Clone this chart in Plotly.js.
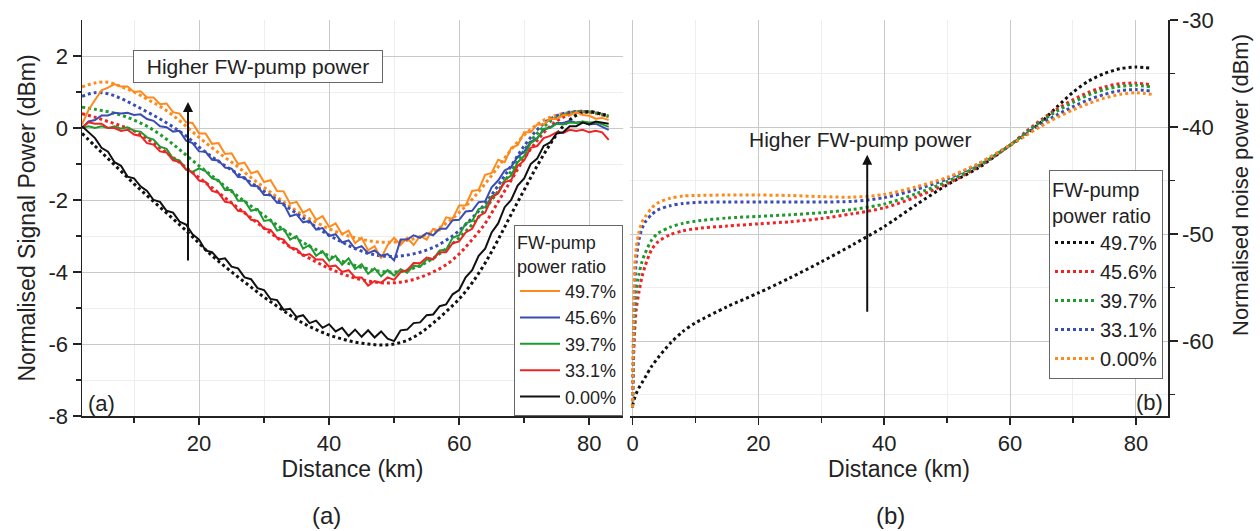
<!DOCTYPE html>
<html><head><meta charset="utf-8">
<script src="https://cdn.plot.ly/plotly-3.0.1.min.js"></script>
<style>html,body{margin:0;padding:0;background:#fff}#chart{width:1260px;height:531px}</style>
</head><body><div id="chart"></div>
<script>
// ---------- Panel (a): normalised signal power ----------
const distMeas = [2,3,4,5,6,7,8,9,10,11,12,13,14,15,16,17,18,19,20,21,22,23,24,25,26,27,28,29,30,31,32,33,34,35,36,37,38,39,40,41,42,43,44,45,46,47,48,49,50,51,52,53,54,55,56,57,58,59,60,61,62,63,64,65,66,67,68,69,70,71,72,73,74,75,76,77,78,79,80,81,82,83];
const orangeMeas = [0.1,0.5,0.78,1.05,1.12,1.22,1.15,1.15,1.0,1.02, 0.85,0.85,0.66,0.68,0.44,0.4,0.16,0.14,-0.15,-0.15, -0.44,-0.42,-0.72,-0.7,-1.0,-0.96,-1.26,-1.2,-1.5,-1.45, -1.75,-1.76,-2.1,-2.05,-2.35,-2.25,-2.55,-2.45,-2.75,-2.65, -2.95,-2.85,-3.2,-3.05,-3.4,-3.28,-3.62,-3.25,-3.05,-3.25, -3.05,-3.25,-3.0,-3.1,-2.8,-2.85,-2.48,-2.52,-2.15,-2.15, -1.75,-1.72,-1.3,-1.25,-0.88,-0.95,-0.55,-0.48,-0.12,-0.12, 0.1,0.1,0.26,0.25,0.36,0.35,0.44,0.36,0.34,0.26, 0.28,0.22];
const blueMeas = [0.0,0.18,0.22,0.35,0.35,0.42,0.4,0.42,0.36,0.38, 0.25,0.2,0.05,0.02,-0.1,-0.08,-0.35,-0.42,-0.65,-0.66, -0.88,-0.9,-1.1,-1.13,-1.36,-1.37,-1.6,-1.62,-1.86,-1.86, -2.08,-2.1,-2.45,-2.4,-2.62,-2.58,-2.82,-2.78,-3.0,-2.95, -3.18,-3.12,-3.35,-3.28,-3.48,-3.4,-3.55,-3.5,-3.68,-3.1, -3.1,-2.98,-3.05,-2.92,-2.98,-2.8,-2.8,-2.56,-2.55,-2.32, -2.3,-2.06,-2.04,-1.65,-1.46,-1.18,-1.08,-0.8,-0.66,-0.38, -0.28,-0.05,0.02,0.14,0.14,0.2,0.15,0.17,0.1,0.12, 0.03,-0.05];
const greenMeas = [0.0,0.05,0.0,0.05,0.0,0.05,-0.02,0.02,-0.08,-0.1, -0.26,-0.32,-0.52,-0.58,-0.85,-0.9,-1.15,-1.22,-1.12,-1.2, -1.4,-1.45,-1.72,-1.72,-2.02,-2.02,-2.3,-2.25,-2.58,-2.55, -2.85,-2.8,-3.1,-3.0,-3.35,-3.25,-3.55,-3.42,-3.68,-3.55, -3.8,-3.62,-3.92,-3.78,-4.05,-3.9,-4.12,-3.95,-4.1,-3.92, -4.02,-3.82,-3.86,-3.65,-3.65,-3.4,-3.38,-3.05,-2.98,-2.65, -2.58,-2.25,-2.2,-1.9,-1.82,-1.45,-1.32,-0.95,-0.78,-0.42, -0.3,-0.02,0.0,0.12,0.1,0.15,0.14,0.18,0.15,0.16, 0.1,0.03];
const redMeas = [0.0,0.16,0.12,0.12,0.0,0.0,-0.08,-0.05,-0.18,-0.22, -0.42,-0.46,-0.65,-0.68,-0.9,-0.94,-1.16,-1.24,-1.46,-1.5, -1.75,-1.8,-2.05,-2.08,-2.3,-2.33,-2.55,-2.58,-2.8,-2.83, -3.05,-3.1,-3.32,-3.36,-3.55,-3.5,-3.65,-3.65,-3.85,-3.82, -4.0,-3.95,-4.15,-4.15,-4.38,-4.25,-4.3,-4.15,-4.22,-4.0, -3.95,-3.75,-3.76,-3.6,-3.64,-3.45,-3.45,-3.2,-3.15,-2.9, -2.8,-2.45,-2.35,-1.95,-1.8,-1.5,-1.45,-1.05,-0.9,-0.55, -0.5,-0.28,-0.22,-0.12,-0.14,-0.05,-0.08,-0.05,-0.12,-0.08, -0.12,-0.33];
const blackMeas = [0.05,-0.12,-0.28,-0.55,-0.66,-0.95,-1.05,-1.35,-1.4,-1.62, -1.75,-2.0,-2.05,-2.3,-2.35,-2.6,-2.68,-2.95,-3.1,-3.4, -3.45,-3.65,-3.62,-3.85,-3.9,-4.15,-4.2,-4.45,-4.5,-4.75, -4.78,-5.05,-5.02,-5.25,-5.2,-5.42,-5.35,-5.55,-5.45,-5.65, -5.55,-5.78,-5.6,-5.8,-5.62,-5.82,-5.65,-5.85,-5.92,-5.62, -5.6,-5.42,-5.4,-5.2,-5.18,-4.95,-4.9,-4.62,-4.5,-4.15, -3.95,-3.55,-3.35,-2.9,-2.65,-2.2,-2.0,-1.6,-1.4,-1.0, -0.85,-0.5,-0.4,-0.15,-0.12,0.05,0.05,0.15,0.1,0.18, 0.15,0.12];

const distSim = [2,4,6,8,10,12,14,16,18,20,22,24,26,28,30,32,34,36,38,40,42,44,46,48,50,52,54,56,58,60,62,64,66,68,70,72,74,76,78,80,82,83];
const orangeSim = [1.14,1.25,1.27,1.15,1.0,0.8,0.6,0.35,0.05,-0.26,-0.55,-0.82,-1.08,-1.38,-1.65,-1.92,-2.18,-2.42,-2.62,-2.8,-2.94,-3.05,-3.13,-3.17,-3.17,-3.12,-3.02,-2.88,-2.65,-2.35,-1.98,-1.55,-1.08,-0.6,-0.2,0.1,0.3,0.4,0.45,0.43,0.36,0.3];
const blueSim = [0.88,0.98,0.95,0.82,0.64,0.45,0.25,0.03,-0.22,-0.53,-0.8,-1.05,-1.28,-1.52,-1.76,-2.0,-2.25,-2.5,-2.75,-2.98,-3.17,-3.35,-3.48,-3.55,-3.57,-3.53,-3.45,-3.32,-3.12,-2.85,-2.5,-2.1,-1.6,-1.05,-0.5,-0.05,0.25,0.4,0.46,0.45,0.38,0.32];
const greenSim = [0.58,0.52,0.45,0.36,0.22,0.05,-0.18,-0.45,-0.75,-1.05,-1.33,-1.62,-1.9,-2.17,-2.43,-2.7,-2.95,-3.18,-3.38,-3.55,-3.7,-3.82,-3.92,-3.98,-4.0,-3.95,-3.82,-3.62,-3.35,-3.05,-2.68,-2.25,-1.75,-1.2,-0.62,-0.15,0.18,0.36,0.45,0.45,0.38,0.33];
const redSim = [0.4,0.3,0.18,0.06,-0.08,-0.3,-0.55,-0.82,-1.1,-1.38,-1.66,-1.94,-2.22,-2.5,-2.78,-3.05,-3.3,-3.52,-3.72,-3.9,-4.05,-4.17,-4.25,-4.3,-4.3,-4.25,-4.15,-4.0,-3.8,-3.5,-3.1,-2.65,-2.05,-1.45,-0.85,-0.35,0.05,0.3,0.42,0.45,0.38,0.33];
const blackSim = [-0.15,-0.5,-0.85,-1.2,-1.55,-1.88,-2.2,-2.52,-2.85,-3.2,-3.55,-3.85,-4.14,-4.42,-4.7,-4.95,-5.2,-5.42,-5.6,-5.75,-5.86,-5.95,-6.0,-6.03,-6.0,-5.9,-5.7,-5.42,-5.1,-4.75,-4.3,-3.75,-3.1,-2.4,-1.72,-1.05,-0.45,0.05,0.35,0.45,0.38,0.33];

const labelsA = ['49.7%','45.6%','39.7%','33.1%','0.00%'];

// ---------- Panel (b): normalised noise power ----------
const distNoise = [0,0.1,0.2,0.35,0.6,1,1.5,2,3,4,6,8,10,15,20,25,30,35,40,45,50,55,60,62.5,65,67.5,70,72.5,75,77.5,80,82.5];
const noiseBlack = [-66.0,-65.8,-65.6,-65.3,-64.9,-64.4,-63.9,-63.4,-62.4,-61.6,-60.2,-59.1,-58.3,-56.8,-55.5,-54.1,-52.6,-51.0,-49.3,-47.3,-45.4,-43.8,-41.7,-40.7,-39.5,-38.1,-36.75,-35.7,-35.0,-34.55,-34.4,-34.5];
const noiseRed = [-66.2,-63.5,-61.0,-59.0,-57.0,-55.5,-54.0,-53.0,-51.5,-50.75,-50.05,-49.7,-49.5,-49.25,-49.05,-48.85,-48.55,-48.1,-47.55,-46.55,-45.3,-43.7,-41.7,-40.45,-39.3,-38.3,-37.45,-36.75,-36.25,-35.95,-35.9,-36.05];
const noiseGreen = [-66.2,-63.0,-60.0,-57.5,-55.3,-53.8,-52.6,-51.8,-50.6,-49.95,-49.35,-49.0,-48.8,-48.5,-48.35,-48.2,-48.0,-47.7,-47.2,-46.25,-45.1,-43.6,-41.7,-40.55,-39.45,-38.5,-37.7,-37.0,-36.5,-36.2,-36.1,-36.25];
const noiseBlue = [-66.2,-62.0,-58.0,-55.0,-52.5,-50.6,-49.5,-48.9,-48.2,-47.75,-47.35,-47.15,-47.05,-47.0,-47.0,-47.0,-47.0,-46.95,-46.6,-45.85,-44.85,-43.45,-41.7,-40.7,-39.7,-38.85,-38.1,-37.45,-36.95,-36.6,-36.5,-36.65];
const noiseOrange = [-66.2,-61.0,-56.5,-53.0,-51.2,-49.9,-48.9,-48.4,-47.6,-47.1,-46.65,-46.45,-46.4,-46.35,-46.35,-46.4,-46.5,-46.55,-46.3,-45.6,-44.7,-43.4,-41.7,-40.8,-39.9,-39.1,-38.4,-37.8,-37.3,-36.95,-36.8,-36.95];
const labelsB = ['49.7%','45.6%','39.7%','33.1%','0.00%'];

// tick labels
const xTicksA = [20,40,60,80], xMinorA = [10,30,50,70];
const yTicksA = [-8,-6,-4,-2,0,2], yTickTextA = ['-8','-6','-4','-2','0','2'], yMinorA = [-7,-5,-3,-1,1];
const xTicksB = [0,20,40,60,80], xMinorB = [10,30,50,70];
const yTicksB = [-60,-50,-40,-30], yTickTextB = ['-60','-50','-40','-30'], yMinorB = [-65,-55,-45,-35];

// ---------- styling ----------
const C = {orange:'#ff8a1c', blue:'#3b4db3', green:'#1f9a2e', red:'#ee2424', black:'#111111'};
const FONT = 'Liberation Sans, Arial, Helvetica, sans-serif';
const TXT = '#222222';

const traces = [];
const simSets = [[orangeSim,C.orange],[blueSim,C.blue],[greenSim,C.green],[redSim,C.red],[blackSim,C.black]];
simSets.forEach(([ys,col]) => traces.push({
  x: distSim, y: ys, xaxis:'x', yaxis:'y', type:'scatter', mode:'lines',
  line:{color:col, width:3, dash:'dot', shape:'spline', smoothing:1}, showlegend:false, hoverinfo:'skip'
}));
const measSets = [[orangeMeas,C.orange],[blueMeas,C.blue],[greenMeas,C.green],[redMeas,C.red],[blackMeas,C.black]];
measSets.forEach(([ys,col],i) => traces.push({
  x: distMeas, y: ys, xaxis:'x', yaxis:'y', type:'scatter', mode:'lines', name: labelsA[i],
  line:{color:col, width:2}, legend:'legend', showlegend:true
}));
const noiseSets = [[noiseBlack,C.black],[noiseRed,C.red],[noiseGreen,C.green],[noiseBlue,C.blue],[noiseOrange,C.orange]];
noiseSets.forEach(([ys,col],i) => traces.push({
  x: distNoise, y: ys, xaxis:'x2', yaxis:'y2', type:'scatter', mode:'lines', name: labelsB[i],
  line:{color:col, width:3, dash:'dot', shape:'spline', smoothing:0.8}, legend:'legend2', showlegend:true
}));

const gridMajor = '#c9c9c9', gridMinor = '#eeeeee';
function xAxis(domain, range, tv, mv, anchor){
  return {domain, range, anchor, tickmode:'array', tickvals:tv, ticks:'outside', ticklen:7, tickwidth:1.5, tickcolor:TXT,
    showline:true, linecolor:TXT, linewidth:1.5, showgrid:true, gridcolor:gridMajor, gridwidth:1, zeroline:false,
    tickfont:{size:22, color:TXT, family:FONT},
    minor:{tickmode:'array', tickvals:mv, ticks:'outside', ticklen:5, tickwidth:1.5, tickcolor:TXT, showgrid:true, gridcolor:gridMinor},
    title:{text:'Distance (km)', font:{size:23, color:TXT, family:FONT}, standoff:6}};
}
const yDom = [1-416/531, 1-20/531];

const layout = {
  width:1260, height:531, paper_bgcolor:'#fff', plot_bgcolor:'rgba(0,0,0,0)',
  margin:{l:0,r:0,t:0,b:0}, font:{family:FONT, color:TXT},
  showlegend:true,
  xaxis: xAxis([82/1260, 623/1260], [2, 85.2], xTicksA, xMinorA, 'y'),
  yaxis: {domain:yDom, range:[-8,3], anchor:'x', tickmode:'array', tickvals:yTicksA, ticktext:yTickTextA,
    ticks:'outside', ticklen:8, tickwidth:1.5, tickcolor:TXT, showline:true, linecolor:TXT, linewidth:1.5,
    showgrid:true, gridcolor:gridMajor, zeroline:false, tickfont:{size:22, color:TXT, family:FONT},
    minor:{tickmode:'array', tickvals:yMinorA, ticks:'outside', ticklen:5, tickwidth:1.5, tickcolor:TXT, showgrid:true, gridcolor:gridMinor},
    title:{text:'Normalised Signal Power (dBm)', font:{size:23, color:TXT, family:FONT}, standoff:6}},
  xaxis2: xAxis([630/1260, 1168/1260], [-0.4, 85.1], xTicksB, xMinorB, 'y2'),
  yaxis2: {domain:yDom, range:[-67,-30], anchor:'x2', side:'right', tickmode:'array', tickvals:yTicksB, ticktext:yTickTextB,
    ticks:'outside', ticklen:8, tickwidth:1.5, tickcolor:TXT, showline:true, linecolor:TXT, linewidth:1.5,
    showgrid:true, gridcolor:gridMajor, zeroline:false, tickfont:{size:22, color:TXT, family:FONT},
    minor:{tickmode:'array', tickvals:yMinorB, ticks:'outside', ticklen:5, tickwidth:1.5, tickcolor:TXT, showgrid:true, gridcolor:gridMinor}},
  legend: {x:623/1260, xanchor:'right', y:1-416/531, yanchor:'bottom', bgcolor:'#fff', bordercolor:'#666', borderwidth:1,
    font:{size:18, color:TXT, family:FONT}, title:{text:'FW-pump<br>power ratio', font:{size:18, color:TXT, family:FONT}},
    tracegroupgap:0, itemwidth:40},
  legend2: {x:1163/1260, xanchor:'right', y:1-170/531, yanchor:'top', bgcolor:'#fff', bordercolor:'#666', borderwidth:1,
    font:{size:20, color:TXT, family:FONT}, title:{text:'FW-pump<br>power ratio', font:{size:20, color:TXT, family:FONT}},
    tracegroupgap:0, itemwidth:40},
  annotations: [
    {xref:'x', yref:'y', x:29.1, y:1.72, text:'Higher FW-pump power', showarrow:false, font:{size:21, color:TXT, family:FONT},
      bgcolor:'#fff', bordercolor:'#666', borderwidth:1, borderpad:4, width:240},
    {xref:'x', yref:'y', axref:'x', ayref:'y', x:18.3, y:0.72, ax:18.3, ay:-3.72, text:'', showarrow:true,
      arrowhead:2, arrowsize:1, arrowwidth:2, arrowcolor:'#111'},
    {xref:'x2', yref:'y2', x:36.2, y:-41.2, text:'Higher FW-pump power', showarrow:false, font:{size:21, color:TXT, family:FONT}},
    {xref:'x2', yref:'y2', axref:'x2', ayref:'y2', x:37.3, y:-42.6, ax:37.3, ay:-57.4, text:'', showarrow:true,
      arrowhead:2, arrowsize:1, arrowwidth:2, arrowcolor:'#111'},
    {xref:'paper', yref:'paper', x:1240/1260, y:1-185/531, xanchor:'center', yanchor:'middle', textangle:-90,
      text:'Normalised noise power (dBm)', showarrow:false, font:{size:22, color:TXT, family:FONT}},
    {xref:'paper', yref:'paper', x:86/1260, y:1-403/531, xanchor:'left', yanchor:'middle', text:'(a)', showarrow:false,
      font:{size:22, color:TXT, family:FONT}},
    {xref:'paper', yref:'paper', x:1165/1260, y:1-402/531, xanchor:'right', yanchor:'middle', text:'(b)', showarrow:false,
      font:{size:22, color:TXT, family:FONT}},
    {xref:'paper', yref:'paper', x:326/1260, y:1-515/531, xanchor:'center', yanchor:'middle', text:'(a)', showarrow:false,
      font:{size:24, color:TXT, family:FONT}},
    {xref:'paper', yref:'paper', x:890/1260, y:1-515/531, xanchor:'center', yanchor:'middle', text:'(b)', showarrow:false,
      font:{size:24, color:TXT, family:FONT}}
  ]
};

Plotly.newPlot('chart', traces, layout, {displayModeBar:false, staticPlot:true});
</script></body></html>
